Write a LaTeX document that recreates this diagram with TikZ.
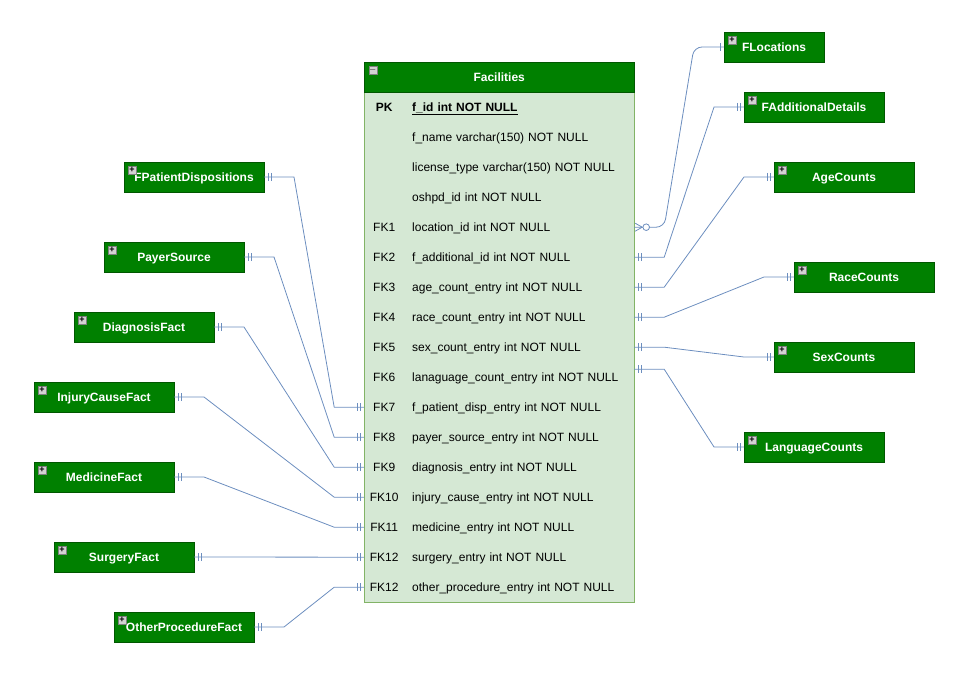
\documentclass[tikz,border=0pt]{standalone}
\usepackage{fontspec}
\setmainfont{Liberation Sans}
\usepackage{xcolor}
\usetikzlibrary{calc}
\usetikzlibrary{positioning}
\usetikzlibrary{matrix}

\definecolor{facgreen}{HTML}{008000}
\definecolor{facedge}{HTML}{005700}
\definecolor{rowfill}{HTML}{D5E8D4}
\definecolor{rowedge}{HTML}{82B366}
\definecolor{linkblue}{HTML}{6C8EBF}

\newcommand{\twobars}[2]{%
  \draw[link] ([xshift=#2*4pt]#1) ++(0,-4) --++(0,8);
  \draw[link] ([xshift=#2*7pt]#1) ++(0,-4) --++(0,8);
}

\begin{document}
\begin{tikzpicture}[x=1pt, y=-1pt, font=\fontsize{12}{14}\selectfont]

\tikzset{
    cell/.style = {
    minimum height=30pt,
    text height=8.6pt,
    text depth=0pt,
    inner sep=0pt,
    outer sep=0pt
    }
}

\tikzstyle{keycell}=[cell, minimum width=40pt]
\tikzstyle{attrcell}=[cell, text width=214pt, inner xsep=8pt, align=left]
\tikzstyle{header}=[draw=facedge, fill=facgreen, text=white, font=\fontsize{12}{14}\selectfont\bfseries, cell, minimum width=270pt]
\tikzstyle{fact}=[draw=facedge, fill=facgreen, text=white, font=\fontsize{12}{14}\selectfont\bfseries, cell, minimum width=140pt]
\tikzstyle{icon}=[draw=gray, fill=gray!35, text=black, minimum size=8pt, inner sep=0pt, font=\fontsize{9}{9}\bfseries\selectfont]
\tikzstyle{link}=[draw=linkblue, line width=0.8pt]

\useasboundingbox (0,0) rectangle (972,682);

\matrix (tab) [anchor=north west, draw=rowedge, fill=rowfill, inner sep=0pt, column sep=0pt, row sep=0pt] at (364,92)
{
\node (k-1) [keycell] {\bfseries PK}; & \node (a-1) [attrcell] {\bfseries\underline{f\_id int NOT NULL}}; \\
\node (k-2) [keycell] {}; & \node (a-2) [attrcell] {f\_name varchar(150) NOT NULL}; \\
\node (k-3) [keycell] {}; & \node (a-3) [attrcell] {license\_type varchar(150) NOT NULL}; \\
\node (k-4) [keycell] {}; & \node (a-4) [attrcell] {oshpd\_id int NOT NULL}; \\
\node (k-5) [keycell] {FK1}; & \node (a-5) [attrcell] {location\_id int NOT NULL}; \\
\node (k-6) [keycell] {FK2}; & \node (a-6) [attrcell] {f\_additional\_id int NOT NULL}; \\
\node (k-7) [keycell] {FK3}; & \node (a-7) [attrcell] {age\_count\_entry int NOT NULL}; \\
\node (k-8) [keycell] {FK4}; & \node (a-8) [attrcell] {race\_count\_entry int NOT NULL}; \\
\node (k-9) [keycell] {FK5}; & \node (a-9) [attrcell] {sex\_count\_entry int NOT NULL}; \\
\node (k-10) [keycell] {FK6}; & \node (a-10) [attrcell] {lanaguage\_count\_entry int NOT NULL}; \\
\node (k-11) [keycell] {FK7}; & \node (a-11) [attrcell] {f\_patient\_disp\_entry int NOT NULL}; \\
\node (k-12) [keycell] {FK8}; & \node (a-12) [attrcell] {payer\_source\_entry int NOT NULL}; \\
\node (k-13) [keycell] {FK9}; & \node (a-13) [attrcell] {diagnosis\_entry int NOT NULL}; \\
\node (k-14) [keycell] {FK10}; & \node (a-14) [attrcell] {injury\_cause\_entry int NOT NULL}; \\
\node (k-15) [keycell] {FK11}; & \node (a-15) [attrcell] {medicine\_entry int NOT NULL}; \\
\node (k-16) [keycell] {FK12}; & \node (a-16) [attrcell] {surgery\_entry int NOT NULL}; \\
\node (k-17) [keycell] {FK12}; & \node (a-17) [attrcell] {other\_procedure\_entry int NOT NULL}; \\
};

\node (fac) [header, above=0pt of tab] {Facilities};
\node [icon] at ([shift={(8.5pt,-8.5pt)}]fac.north west) {$-$};

% left side
\node (fpd) [fact] at (194,177) {FPatientDispositions};
\node (pay) [fact] at (174,257) {PayerSource};
\node (dia) [fact] at (144,327) {DiagnosisFact};
\node (inj) [fact] at (104,397) {InjuryCauseFact};
\node (med) [fact] at (104,477) {MedicineFact};
\node (sur) [fact] at (124,557) {SurgeryFact};
\node (oth) [fact] at (184,627) {OtherProcedureFact};

% right side
\node (flo) [fact, minimum width=100pt] at (774,47) {FLocations};
\node (fad) [fact] at (814,107) {FAdditionalDetails};
\node (age) [fact] at (844,177) {AgeCounts};
\node (rac) [fact] at (864,277) {RaceCounts};
\node (sex) [fact] at (844,357) {SexCounts};
\node (lan) [fact] at (814,447) {LanguageCounts};

\foreach \b in {fpd,pay,dia,inj,med,sur,oth,flo,fad,age,rac,sex,lan}{
    \node [icon] at ([shift={(8pt,-8pt)}]\b.north west) {+};
}

\draw[link] (fpd.east)--++(30,0)--([xshift=-30pt]k-11.west)--(k-11.west);
\draw[link] (pay.east)--++(30,0)--([xshift=-30pt]k-12.west)--(k-12.west);
\draw[link] (dia.east)--++(30,0)--([xshift=-30pt]k-13.west)--(k-13.west);
\draw[link] (inj.east)--++(30,0)--([xshift=-30pt]k-14.west)--(k-14.west);
\draw[link] (med.east)--++(30,0)--([xshift=-30pt]k-15.west)--(k-15.west);
\draw[link] (sur.east)--(k-16.west);
\draw[link] (oth.east)--++(30,0)--([xshift=-30pt]k-17.west)--(k-17.west);

\draw[link, rounded corners=8pt] (a-5.east)--++(30,0)--([xshift=-30pt]flo.west)--(flo.west);
\draw[link] (a-6.east)--++(30,0)--([xshift=-30pt]fad.west)--(fad.west);
\draw[link] (a-7.east)--++(30,0)--([xshift=-30pt]age.west)--(age.west);
\draw[link] (a-8.east)--++(30,0)--([xshift=-30pt]rac.west)--(rac.west);
\draw[link] (a-9.east)--++(30,0)--([xshift=-30pt]sex.west)--(sex.west);
\coordinate (a-10r) at ([yshift=8pt]a-10.east);
\draw[link] (a-10r)--++(30,0)--([xshift=-30pt]lan.west)--(lan.west);

% cardinality marks
\foreach \p/\d in {fpd.east/1,pay.east/1,dia.east/1,inj.east/1,med.east/1,sur.east/1,oth.east/1,
    k-11.west/-1,k-12.west/-1,k-13.west/-1,k-14.west/-1,k-15.west/-1,k-16.west/-1,k-17.west/-1,
    a-6.east/1,a-7.east/1,a-8.east/1,a-9.east/1,a-10r/1,
    fad.west/-1,age.west/-1,rac.west/-1,sex.west/-1,lan.west/-1}{
    \twobars{\p}{\d}
}
\draw[link] ([xshift=-4pt]flo.west) ++(0,-4) --++(0,8);

% crow foot
\draw[link] ([shift={(1pt,-4pt)}]a-5.east)--([xshift=8pt]a-5.east)--([shift={(1pt,4pt)}]a-5.east);
\draw[link, fill=white] ([xshift=12pt]a-5.east) circle (3.3pt);

\end{tikzpicture}
\end{document}
